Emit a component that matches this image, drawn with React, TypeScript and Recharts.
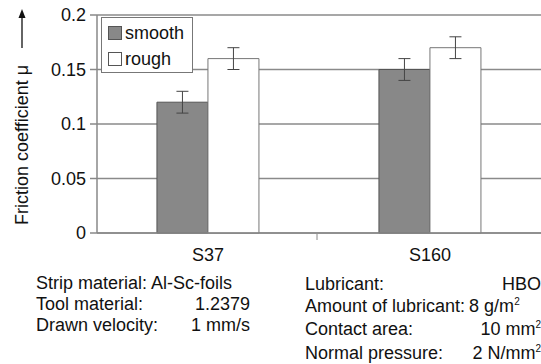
import { BarChart, Bar, XAxis, YAxis, CartesianGrid, ErrorBar } from 'recharts'

const categories = ['S37', 'S160']
const smooth = [0.12, 0.15]
const smoothErr = [0.01, 0.01]
const rough = [0.16, 0.17]
const roughErr = [0.01, 0.01]
const yTicks = [0, 0.05, 0.1, 0.15, 0.2]

const data = categories.map((c, i) => ({
  name: c,
  smooth: smooth[i],
  smoothErr: smoothErr[i],
  rough: rough[i],
  roughErr: roughErr[i],
}))

const FONT = '"Liberation Sans", Arial, sans-serif'

const Sup = ({ children }: { children: React.ReactNode }) => (
  <span style={{ fontSize: 10, position: 'relative', top: -7 }}>{children}</span>
)

const leftNotes: [string, React.ReactNode][] = [
  ['Strip material: Al-Sc-foils', ''],
  ['Tool material:', '1.2379'],
  ['Drawn velocity:', '1 mm/s'],
]
const rightNotes: [string, React.ReactNode][] = [
  ['Lubricant:', 'HBO'],
  ['Amount of lubricant:', <>8 g/m<Sup>2</Sup></>],
  ['Contact area:', <>10 mm<Sup>2</Sup></>],
  ['Normal pressure:', <>2 N/mm<Sup>2</Sup></>],
]

const LegendBox = () => (
  <div style={{
    position: 'absolute', left: 101, top: 17,
    border: '1px solid #777', background: '#fff', width: 92, height: 56,
    fontFamily: FONT, fontSize: 18, color: '#111', boxSizing: 'border-box', padding: '2px 0 0 6px',
  }}>
    {[['smooth', '#888888'], ['rough', '#ffffff']].map(([n, c]) => (
      <div key={n} style={{ display: 'flex', alignItems: 'center', height: 26 }}>
        <span style={{ width: 12, height: 12, background: c, border: '1px solid #555', marginRight: 3 }} />
        {n}
      </div>
    ))}
  </div>
)

const YLabel = () => (
  <svg width={40} height={240} style={{ position: 'absolute', left: 0, top: 0 }}>
    <text x={22} y={145} transform="rotate(-90 22 145)" textAnchor="middle" dominantBaseline="central"
      fontFamily={FONT} fontSize={18} fill="#111">
      Friction coefficient μ
    </text>
    <line x1={22} y1={48} x2={22} y2={16} stroke="#111" strokeWidth={1.3} />
    <path d="M18.5 18 L22 9 L25.5 18 Z" fill="#111" />
  </svg>
)

const XTick = (props: any) => {
  const { x, y, payload, index } = props
  return (
    <g>
      {index === 0 && <line x1={x + 109} y1={y - 7} x2={x + 109} y2={y - 1} stroke="#888" />}
      <text x={x} y={y + 20} textAnchor="middle" fontFamily={FONT} fontSize={18} fill="#111">{payload.value}</text>
    </g>
  )
}

export default function App() {
  return (
    <div style={{ position: 'absolute', left: 0, top: 0, width: 541, height: 364, background: '#fff' }}>
      <BarChart width={541} height={364} data={data} margin={{ top: 15, right: 0, bottom: 0, left: 0 }}
        barCategoryGap="27%" barGap={0}>
        <CartesianGrid vertical={false} stroke="#8a8a8a" strokeWidth={1.5} />
        <XAxis dataKey="name" axisLine={{ stroke: '#888', strokeWidth: 1.5 }} tickLine={false}
          tick={<XTick />} height={131} interval={0} />
        <YAxis domain={[0, 0.2]} ticks={yTicks} width={97} tickSize={7} tickMargin={4}
          axisLine={{ stroke: '#888', strokeWidth: 1.5 }} tickLine={{ stroke: '#888', strokeWidth: 1.5 }}
          tick={{ fontFamily: FONT, fontSize: 18, fill: '#111' }} />
        <Bar dataKey="smooth" fill="#888888" stroke="#555" strokeWidth={1} isAnimationActive={false}>
          <ErrorBar dataKey="smoothErr" width={6} stroke="#444" strokeWidth={1} />
        </Bar>
        <Bar dataKey="rough" fill="#ffffff" stroke="#777" strokeWidth={1} isAnimationActive={false}>
          <ErrorBar dataKey="roughErr" width={6} stroke="#444" strokeWidth={1} />
        </Bar>
      </BarChart>
      <YLabel />
      <LegendBox />
      <div style={{ position: 'absolute', left: 36, top: 273, width: 214, fontFamily: FONT, fontSize: 18, color: '#111', lineHeight: '21px' }}>
        {leftNotes.map(([a, b]) => (
          <div key={a} style={{ display: 'flex', justifyContent: 'space-between', whiteSpace: 'nowrap' }}>
            <span>{a}</span><span>{b}</span>
          </div>
        ))}
      </div>
      <div style={{ position: 'absolute', left: 305, top: 274, width: 236, fontFamily: FONT, fontSize: 18, color: '#111', lineHeight: '21.5px' }}>
        {rightNotes.map(([a, b]) => (
          <div key={a} style={{ display: 'flex', justifyContent: a.startsWith('Amount') ? 'flex-start' : 'space-between', gap: 4, whiteSpace: 'nowrap' }}>
            <span>{a}</span><span>{b}</span>
          </div>
        ))}
      </div>
    </div>
  )
}
